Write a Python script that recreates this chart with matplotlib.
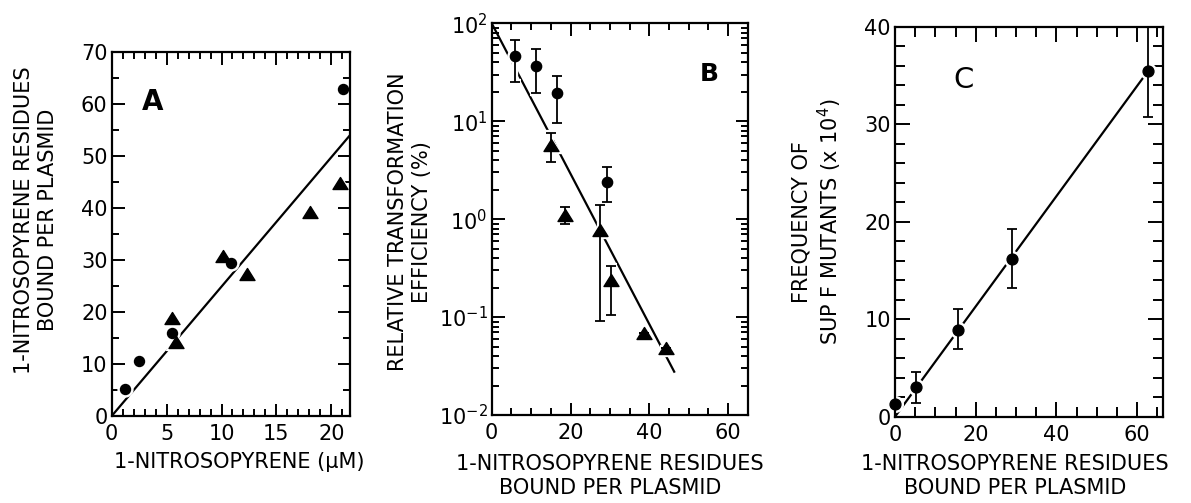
import matplotlib
matplotlib.use("Agg")
import matplotlib.pyplot as plt
import matplotlib.ticker as mticker
from matplotlib.path import Path
import numpy as np

# ---------------- data ----------------
# Panel A
a_circ_x = [1.2, 2.5, 5.45, 10.9, 21.1]
a_circ_y = [5.2, 10.6, 16.0, 29.4, 62.8]
a_tri_x = [5.5, 5.9, 10.15, 12.3, 18.1, 20.75]
a_tri_y = [18.8, 14.3, 30.8, 27.3, 39.3, 44.9]
a_fit_x = [0.0, 21.7]
a_fit_y = [0.0, 54.0]

# Panel B
b_circ_x = [5.9, 11.2, 16.5, 29.2]
b_circ_y = [46.0, 36.4, 19.2, 2.37]
b_circ_lo = [25.2, 19.5, 9.6, 1.50]
b_circ_hi = [67.0, 55.2, 28.8, 3.42]
b_tri_x = [15.0, 18.6, 27.5, 30.25, 38.7, 44.1]
b_tri_y = [5.7, 1.10, 0.77, 0.239, 0.068, 0.0486]
b_tri_lo = [3.85, 0.90, 0.092, 0.106, 0.068, 0.0486]
b_tri_hi = [7.6, 1.32, 1.39, 0.331, 0.068, 0.0486]
b_fit_x = [0.0, 46.3]
b_fit_y = [100.0, 0.0277]

# Panel C
c_x = [0.0, 5.2, 15.5, 28.9, 62.8]
c_y = [1.3, 3.0, 8.87, 16.2, 35.5]
c_lo = [1.3, 1.43, 6.9, 13.2, 30.7]
c_hi = [1.3, 4.6, 11.0, 19.3, 40.3]
c_fit_x = [0.0, 62.8]
c_fit_y = [0.0, 35.5]

# ---------------- style ----------------
plt.rcParams['font.family'] = ['DejaVu Sans']
plt.rcParams['mathtext.default'] = 'regular'
W, H = 1191, 503
fig = plt.figure(figsize=(W / 100, H / 100), dpi=100)

TICK_FS = 15
LAB_FS = 15
LW = 1.6
tri = Path([(-1, -0.8), (1, -0.8), (0, 0.8), (-1, -0.8)],
           [Path.MOVETO, Path.LINETO, Path.LINETO, Path.CLOSEPOLY])


def axes_px(x0, x1, y0, y1):
    return fig.add_axes([x0 / W, 1 - y1 / H, (x1 - x0) / W, (y1 - y0) / H])


def style(ax, maj_len=9, min_len=5):
    for s in ax.spines.values():
        s.set_linewidth(LW)
        s.set_zorder(6)
    ax.tick_params(which='both', direction='in', top=True, right=True,
                   width=1.4, labelsize=TICK_FS, pad=6)
    ax.tick_params(which='major', length=maj_len)
    ax.tick_params(which='minor', length=min_len)
    ax.tick_params(axis='y', pad=3)


def ftext(px, py, s, **kw):
    fig.text(px / W, 1 - py / H, s, **kw)


def markers(ax, x, y, marker, ms):
    # white halo underneath (breaks the fit line), then black marker
    ax.plot(x, y, ls='none', marker=marker, ms=ms + 3.5, color='white',
            mec='white', zorder=3)
    ax.plot(x, y, ls='none', marker=marker, ms=ms, color='black',
            zorder=5, clip_on=False)


def err(ax, x, y, lo, hi, marker, ms):
    yerr = [np.array(y) - np.array(lo), np.array(hi) - np.array(y)]
    ax.errorbar(x, y, yerr=yerr, fmt='none', ecolor='white',
                elinewidth=4.5, capsize=4.5, capthick=4.5, zorder=3)
    ax.errorbar(x, y, yerr=yerr, fmt='none', ecolor='black',
                elinewidth=1.3, capsize=3.5, capthick=1.3, zorder=4)
    markers(ax, x, y, marker, ms)


# ---------------- Panel A ----------------
axA = axes_px(111.7, 350, 52, 416)
axA.plot(a_fit_x, a_fit_y, color='black', lw=LW, zorder=2)
markers(axA, a_circ_x, a_circ_y, 'o', 7.2)
markers(axA, a_tri_x, a_tri_y, tri, 10.8)
axA.set_xlim(0, 21.7)
axA.set_ylim(0, 70)
axA.xaxis.set_major_locator(mticker.MultipleLocator(5))
axA.xaxis.set_minor_locator(mticker.MultipleLocator(1))
axA.yaxis.set_major_locator(mticker.MultipleLocator(10))
axA.yaxis.set_minor_locator(mticker.MultipleLocator(5))
style(axA)
axA.text(3.7, 60.4, 'A', fontsize=20, fontweight='bold', ha='center', va='center')

# ---------------- Panel B ----------------
axB = axes_px(491.7, 748.3, 23.3, 415)
axB.set_yscale('log')
axB.plot(b_fit_x, b_fit_y, color='black', lw=LW, zorder=2)
err(axB, b_circ_x, b_circ_y, b_circ_lo, b_circ_hi, 'o', 7.4)
err(axB, b_tri_x, b_tri_y, b_tri_lo, b_tri_hi, tri, 10.8)
axB.set_xlim(0, 65.1)
axB.set_ylim(1e-2, 1e2)
axB.xaxis.set_major_locator(mticker.MultipleLocator(20))
axB.xaxis.set_minor_locator(mticker.MultipleLocator(5))
axB.yaxis.set_major_locator(mticker.LogLocator(base=10, numticks=10))
axB.yaxis.set_minor_locator(mticker.LogLocator(base=10, subs=np.arange(2, 10), numticks=20))
axB.yaxis.set_minor_formatter(mticker.NullFormatter())
style(axB)
axB.text(55.3, 30.7, 'B', fontsize=18, fontweight='bold', ha='center', va='center')

# ---------------- Panel C ----------------
axC = axes_px(895, 1163.3, 26.7, 416.7)
axC.plot(c_fit_x, c_fit_y, color='black', lw=LW, zorder=2)
err(axC, c_x, c_y, c_lo, c_hi, 'o', 7.8)
axC.set_xlim(0, 66.5)
axC.set_ylim(0, 40)
axC.xaxis.set_major_locator(mticker.MultipleLocator(20))
axC.xaxis.set_minor_locator(mticker.MultipleLocator(5))
axC.yaxis.set_major_locator(mticker.MultipleLocator(10))
axC.yaxis.set_minor_locator(mticker.MultipleLocator(2))
style(axC, maj_len=11, min_len=7)
axC.text(16.9, 34.5, 'C', fontsize=21, ha='center', va='center')

# ---------------- labels ----------------
ftext(36, 220, '1-NITROSOPYRENE RESIDUES\nBOUND PER PLASMID', rotation=90,
      ha='center', va='center', multialignment='center', fontsize=LAB_FS,
      linespacing=1.2)
ftext(239, 462, '1-NITROSOPYRENE (μM)', ha='center', va='center', fontsize=LAB_FS)

ftext(410, 222, 'RELATIVE TRANSFORMATION\nEFFICIENCY (%)', rotation=90,
      ha='center', va='center', multialignment='center', fontsize=LAB_FS,
      linespacing=1.2)
ftext(610, 476, '1-NITROSOPYRENE RESIDUES\nBOUND PER PLASMID', ha='center',
      va='center', multialignment='center', fontsize=LAB_FS, linespacing=1.2)

ftext(818, 222, 'FREQUENCY OF\nSUP F MUTANTS (x 10$^{4}$)', rotation=90,
      ha='center', va='center', multialignment='center', fontsize=LAB_FS,
      linespacing=1.2)
ftext(1015, 476, '1-NITROSOPYRENE RESIDUES\nBOUND PER PLASMID', ha='center',
      va='center', multialignment='center', fontsize=LAB_FS, linespacing=1.2)

fig.savefig('out.png', dpi=100)
